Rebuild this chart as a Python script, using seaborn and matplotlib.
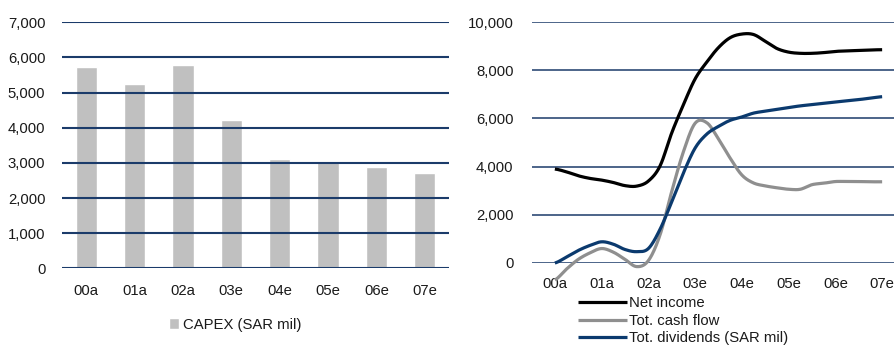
import numpy as np
import pandas as pd
import matplotlib
matplotlib.use("Agg")
import matplotlib.pyplot as plt
import seaborn as sns

# ---- data -------------------------------------------------------------
years = ["00a", "01a", "02a", "03e", "04e", "05e", "06e", "07e"]
capex = [5730, 5240, 5780, 4220, 3110, 3020, 2890, 2720]

# quarterly readings from 00a to 07e (29 points)
net_income = [3900, 3780, 3620, 3510, 3440, 3340, 3210, 3190, 3400, 4030,
              5400, 6570, 7640, 8340, 8940, 9350, 9500, 9480, 9200, 8900,
              8750, 8700, 8700, 8730, 8780, 8800, 8820, 8840, 8850]
cash_flow = [-700, -250, 150, 420, 600, 450, 150, -150, 100, 1170,
             2970, 4620, 5800, 5820, 5150, 4350, 3650, 3320, 3200, 3120,
             3060, 3060, 3250, 3310, 3380, 3380, 3380, 3370, 3370]
dividends = [0, 250, 520, 730, 880, 780, 560, 470, 600, 1400,
             2540, 3740, 4770, 5350, 5670, 5920, 6060, 6220, 6300, 6380,
             6450, 6520, 6570, 6620, 6680, 6730, 6780, 6840, 6900]

series_names = ["Net income", "Tot. cash flow", "Tot. dividends (SAR mil)"]
series_colors = ["#000000", "#8f8f8f", "#0b3a6e"]

GRID = "#1b3b6a"
TEXT = "#1a1a1a"
FS = 10.7


def smooth(y, n=16):
    """Uniform Catmull-Rom curve through the points (quarter steps)."""
    y = np.asarray(y, dtype=float)
    p = np.concatenate([[y[0]], y, [y[-1]]])
    xs, ys = [], []
    t = np.linspace(0, 1, n, endpoint=False)
    for i in range(len(y) - 1):
        p0, p1, p2, p3 = p[i], p[i + 1], p[i + 2], p[i + 3]
        v = 0.5 * ((2 * p1) + (-p0 + p2) * t
                   + (2 * p0 - 5 * p1 + 4 * p2 - p3) * t ** 2
                   + (-p0 + 3 * p1 - 3 * p2 + p3) * t ** 3)
        xs.append((i + t) / 4.0)
        ys.append(v)
    xs.append([(len(y) - 1) / 4.0])
    ys.append([y[-1]])
    return np.concatenate(xs), np.concatenate(ys)


sns.set_theme(style="white")
plt.rcParams["font.family"] = ["Liberation Sans", "DejaVu Sans"]
plt.rcParams["text.color"] = TEXT

fig = plt.figure(figsize=(8.95, 3.45), dpi=100)

# ---- left: CAPEX bars --------------------------------------------------
ax1 = fig.add_axes([62 / 895, (345 - 268.3) / 345, 387 / 895, 246 / 345])
bar_df = pd.DataFrame({"year": years, "capex": capex})
sns.barplot(data=bar_df, x="year", y="capex", color="#c0c0c0", saturation=1,
            width=0.44, ax=ax1, label="CAPEX (SAR mil)")
ax1.set_ylim(0, 7000)
ax1.set_xlim(-0.5, 7.5)
ax1.set_yticks(range(0, 7001, 1000))
ax1.set_yticklabels([f"{v:,}" for v in range(0, 7001, 1000)])
ax1.set_axisbelow(False)
ax1.yaxis.grid(True, color=GRID, linewidth=1.5)
ax1.xaxis.grid(False)
ax1.set_xlabel("")
ax1.set_ylabel("")
for s in ax1.spines.values():
    s.set_visible(False)
ax1.tick_params(axis="y", length=0, pad=12, labelsize=FS, labelcolor=TEXT)
ax1.tick_params(axis="x", length=0, pad=11, labelsize=FS, labelcolor=TEXT)
ax1.legend(loc="upper left", bbox_to_anchor=(169 / 895, (345 - 318) / 345),
           bbox_transform=fig.transFigure, frameon=False, fontsize=FS,
           handlelength=0.7, handleheight=0.75, handletextpad=0.25,
           borderpad=0, borderaxespad=0)

# ---- right: income / cash flow / dividends lines -----------------------
ax2 = fig.add_axes([531.5 / 895, (345 - 263) / 345, 374 / 895, 241 / 345])
frames = []
for name, vals in zip(series_names, [net_income, cash_flow, dividends]):
    xs, ys = smooth(vals)
    frames.append(pd.DataFrame({"pos": xs, "value": ys, "series": name}))
line_df = pd.concat(frames, ignore_index=True)
sns.lineplot(data=line_df, x="pos", y="value", hue="series",
             hue_order=series_names, palette=series_colors, estimator=None,
             sort=False, linewidth=2.3, ax=ax2)
for ln in ax2.get_lines():
    ln.set_clip_on(False)
    ln.set_solid_capstyle("butt")
ax2.set_ylim(0, 10000)
ax2.set_xlim(-0.5, 7.5)
ax2.set_xticks(range(len(years)))
ax2.set_xticklabels(years)
ax2.set_yticks(range(0, 10001, 2000))
ax2.set_yticklabels([f"{v:,}" for v in range(0, 10001, 2000)])
ax2.set_axisbelow(True)
ax2.yaxis.grid(True, color=GRID, linewidth=1.1)
ax2.xaxis.grid(False)
ax2.set_xlabel("")
ax2.set_ylabel("")
for s in ax2.spines.values():
    s.set_visible(False)
ax2.tick_params(axis="y", length=0, pad=13, labelsize=FS, labelcolor=TEXT)
ax2.tick_params(axis="x", length=0, pad=10, labelsize=FS, labelcolor=TEXT)
ax2.legend(loc="upper left", bbox_to_anchor=(578 / 895, (345 - 296) / 345),
           bbox_transform=fig.transFigure, frameon=False, fontsize=FS,
           handlelength=3.3, handletextpad=0.15, labelspacing=0.25,
           borderpad=0, borderaxespad=0)

fig.savefig("out.png", dpi=100)
